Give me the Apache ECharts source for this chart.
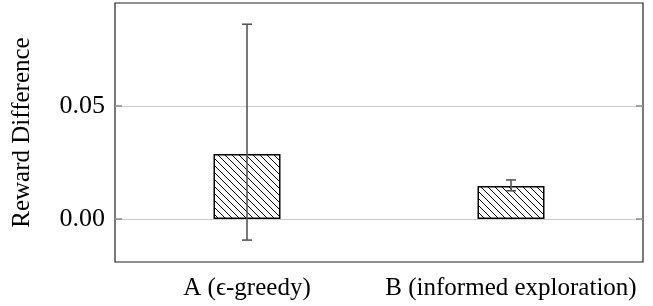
<!DOCTYPE html>
<html>
<head>
<meta charset="utf-8">
<script src="https://cdn.jsdelivr.net/npm/echarts@6/dist/echarts.min.js"></script>
<style>
  html, body { margin: 0; padding: 0; background: #fff; }
  #chart { width: 653px; height: 306px; }
</style>
</head>
<body>
<div id="chart"></div>
<script>
const categories = ["A (\u03f5-greedy)", "B (informed exploration)"];
const means = [0.0288, 0.0146];
const errLow = [-0.0093, 0.0125];
const errHigh = [0.0862, 0.0173];
const yTicks = [0, 0.05];
const yTickLabels = ["0.00", "0.05"];

const font = "'Liberation Serif', 'Times New Roman', serif";

// diagonal hatch (\\\) tile
function hatch() {
  const size = 7;
  const c = document.createElement("canvas");
  c.width = size;
  c.height = size;
  const ctx = c.getContext("2d");
  ctx.fillStyle = "#fff";
  ctx.fillRect(0, 0, size, size);
  ctx.strokeStyle = "#000";
  ctx.lineWidth = 1;
  ctx.beginPath();
  ctx.moveTo(-1, -1); ctx.lineTo(size + 1, size + 1);
  ctx.moveTo(-1, size - 1); ctx.lineTo(1, size + 1);
  ctx.moveTo(size - 1, -1); ctx.lineTo(size + 1, 1);
  ctx.stroke();
  return c;
}

const tickStyle = { color: "#8a8a8a", width: 1.5 };

const chart = echarts.init(document.getElementById("chart"));

chart.setOption({
  animation: false,
  grid: {
    left: 115, right: 10, top: 3, bottom: 44,
    show: true, borderColor: "#222", borderWidth: 1.2, backgroundColor: "transparent",
  },
  xAxis: {
    type: "category",
    data: categories,
    axisLine: { show: false },
    axisTick: { show: false },
    axisLabel: {
      color: "#000", fontFamily: font, fontSize: 25, margin: 14,
      interval: 0, hideOverlap: false,
    },
  },
  yAxis: [
    {
      type: "value",
      min: -0.019,
      max: 0.0956,
      name: "Reward Difference",
      nameLocation: "middle",
      nameGap: 80,
      nameTextStyle: { color: "#000", fontFamily: font, fontSize: 25 },
      axisLine: { show: false },
      axisTick: { show: true, inside: true, length: 7, customValues: yTicks, lineStyle: tickStyle },
      axisLabel: {
        color: "#000", fontFamily: font, fontSize: 26, margin: 10,
        customValues: yTicks,
        formatter: (v) => yTickLabels[yTicks.indexOf(v)] ?? v.toFixed(2),
      },
      splitLine: { show: true, lineStyle: { color: "#ccc", width: 1.2 } },
    },
    {
      type: "value",
      min: -0.019,
      max: 0.0956,
      position: "right",
      axisLine: { show: false },
      axisTick: { show: true, inside: true, length: 7, customValues: yTicks, lineStyle: tickStyle },
      axisLabel: { show: false, customValues: yTicks },
      splitLine: { show: false },
    },
  ],
  series: [
    {
      type: "bar",
      data: means,
      barWidth: 67,
      itemStyle: {
        color: { image: hatch(), repeat: "repeat" },
        borderColor: "#000",
        borderWidth: 1.5,
      },
      z: 2,
    },
    {
      type: "custom",
      data: categories.map((_, i) => [i, errLow[i], errHigh[i]]),
      z: 3,
      renderItem: (params, api) => {
        const lo = api.coord([api.value(0), api.value(1)]);
        const hi = api.coord([api.value(0), api.value(2)]);
        const cap = 5;
        const style = { stroke: "#555", lineWidth: 1.6 };
        return {
          type: "group",
          children: [
            { type: "line", shape: { x1: hi[0], y1: hi[1], x2: lo[0], y2: lo[1] }, style },
            { type: "line", shape: { x1: hi[0] - cap, y1: hi[1], x2: hi[0] + cap, y2: hi[1] }, style },
            { type: "line", shape: { x1: lo[0] - cap, y1: lo[1], x2: lo[0] + cap, y2: lo[1] }, style },
          ],
        };
      },
    },
  ],
});
</script>
</body>
</html>
